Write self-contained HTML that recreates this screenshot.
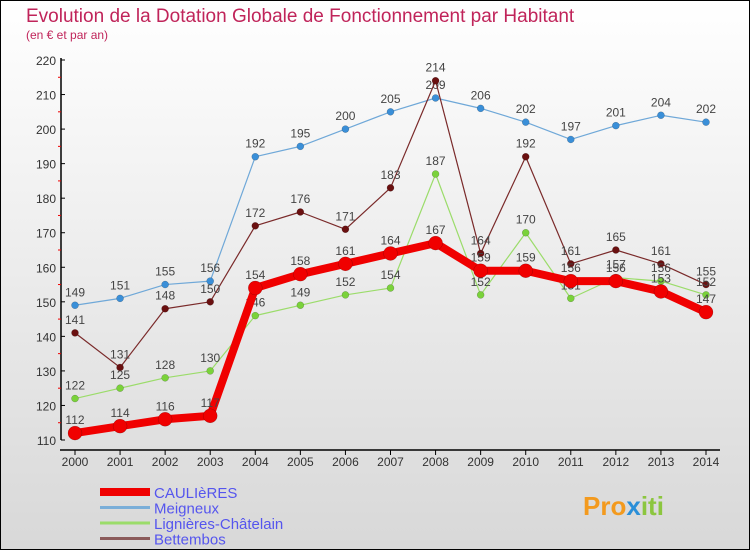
<!DOCTYPE html>
<html><head><meta charset="utf-8"><style>
body{margin:0}
svg text{font-family:"Liberation Sans",sans-serif}
</style></head><body>
<svg width="750" height="550" xmlns="http://www.w3.org/2000/svg">
<defs><linearGradient id="bg" x1="0" y1="0" x2="0" y2="1"><stop offset="0" stop-color="#ffffff"/><stop offset="1" stop-color="#d8d8d8"/></linearGradient></defs>
<rect x="0.5" y="0.5" width="749" height="549" fill="url(#bg)" stroke="#000"/>
<text x="26" y="22" font-size="19" fill="#c0245a">Evolution de la Dotation Globale de Fonctionnement par Habitant</text>
<text x="26" y="39" font-size="12" fill="#c0245a">(en € et par an)</text>
<g id="axes"></g>
<g id="series"></g>
<g id="legend"></g>
<text x="583" y="515" font-size="26" font-weight="bold" fill="#f39a1e">Pro<tspan fill="#2a8fd8">x</tspan><tspan fill="#8cc63f">iti</tspan></text>
</svg>
<script>
const years=[2000,2001,2002,2003,2004,2005,2006,2007,2008,2009,2010,2011,2012,2013,2014];
const yTicks=[110,120,130,140,150,160,170,180,190,200,210,220];
const caulieres=[112,114,116,117,154,158,161,164,167,159,159,156,156,153,147];
const meigneux=[149,151,155,156,192,195,200,205,209,206,202,197,201,204,202];
const lignieres=[122,125,128,130,146,149,152,154,187,152,170,151,157,156,152];
const bettembos=[141,131,148,150,172,176,171,183,214,164,192,161,165,161,155];
const NS="http://www.w3.org/2000/svg";
function x(i){return 75+i*(706-75)/14;}
function y(v){return 440-(v-110)*(380/110);}
function mk(tag,attrs,parent,txt){const e=document.createElementNS(NS,tag);for(const k in attrs)e.setAttribute(k,attrs[k]);if(txt!==undefined)e.textContent=txt;parent.appendChild(e);return e;}
const ax=document.getElementById('axes');
let e=mk('line',{x1:61,y1:58,x2:61,y2:440,stroke:'#000','stroke-width':1.5},ax);

e=mk('line',{x1:60,y1:450,x2:720,y2:450,stroke:'#000','stroke-width':1.5},ax);

yTicks.forEach(v=>{mk('line',{x1:61,y1:y(v),x2:65,y2:y(v),stroke:'#000'},ax);
e=mk('text',{x:56,y:y(v)+5,'font-size':12,'text-anchor':'end',fill:'#333'},ax,v);

if(v<220)mk('line',{x1:58,y1:y(v+5),x2:61,y2:y(v+5),stroke:'#e00'},ax);});
years.forEach((yr,i)=>{mk('line',{x1:x(i),y1:450,x2:x(i),y2:455,stroke:'#000'},ax);
e=mk('text',{x:x(i),y:466,'font-size':12,'text-anchor':'middle',fill:'#333'},ax,yr);
});
const sg=document.getElementById('series');
function draw(data,name,color,w,r,dot){
 const g=mk('g',{},sg);
 
 const l=mk('polyline',{points:data.map((v,i)=>x(i)+','+y(v)).join(' '),fill:'none',stroke:color,'stroke-width':w,'stroke-linejoin':'round'},g);
 
 data.forEach((v,i)=>{const c=mk('circle',{cx:x(i),cy:y(v),r:r,fill:dot,stroke:'rgba(0,0,0,0.3)','stroke-width':0.5},g);
 
 const t=mk('text',{x:x(i),y:y(v)-9,'font-size':12,'text-anchor':'middle',fill:'#444'},g,v);
 });
}
draw(meigneux,'meigneux','#6fa8d8',1.2,3.5,'#3a8fd8');
draw(bettembos,'bettembos','#7a2a2a',1.2,3.5,'#6a1010');
draw(lignieres,'lignieres','#9bdc6a',1.2,3.5,'#7ad23a');
draw(caulieres,'caulieres','#f00000',8,7,'#f00000');
const lg=document.getElementById('legend');
const leg=[['CAULIèRES','#f00000',8],['Meigneux','#7aaed8',3],['Lignières-Châtelain','#9bdc6a',3],['Bettembos','#8a5a5a',3]];
leg.forEach((d,i)=>{const yy=492+i*15.5;
 const g=mk('g',{},lg);
 mk('line',{x1:100,y1:yy,x2:150,y2:yy,stroke:d[1],'stroke-width':d[2]},g);
 mk('text',{x:154,y:yy+6,'font-size':15,fill:'#5555ee'},g,d[0]);});
</script>
</body></html>
